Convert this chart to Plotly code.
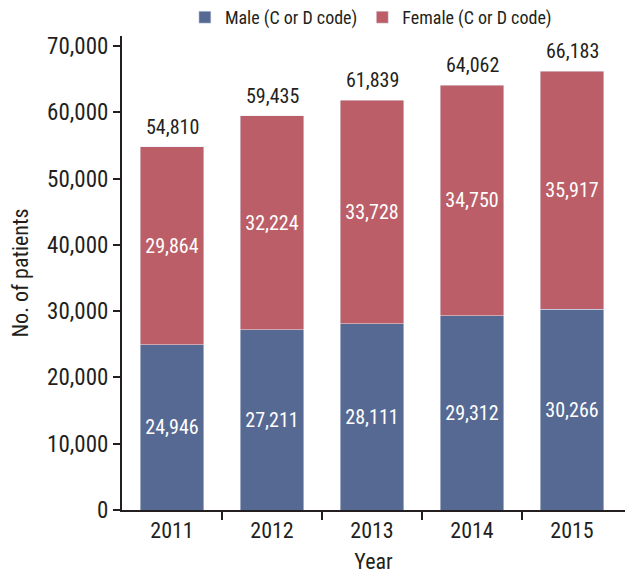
import plotly.graph_objects as go

years = ["2011", "2012", "2013", "2014", "2015"]
male = [24946, 27211, 28111, 29312, 30266]
female = [29864, 32224, 33728, 34750, 35917]
totals = [54810, 59435, 61839, 64062, 66183]
y_ticks = [0, 10000, 20000, 30000, 40000, 50000, 60000, 70000]

FONT = "Roboto Condensed, Liberation Sans Narrow, sans-serif"
INK = "#231f20"
BLUE = "#566993"
RED = "#bb5e67"

xs = list(range(len(years)))
fmt = lambda v: f"{v:,}"

fig = go.Figure()
fig.add_trace(go.Bar(
    x=xs, y=male, name="Male (C or D code)", marker_color=BLUE, width=0.636,
    text=[fmt(v) for v in male], textposition="inside", insidetextanchor="middle",
    textfont=dict(color="white", size=20, family=FONT), textangle=0,
))
fig.add_trace(go.Bar(
    x=xs, y=female, name="Female (C or D code)", marker_color=RED, width=0.636,
    text=[fmt(v) for v in female], textposition="inside", insidetextanchor="middle",
    textfont=dict(color="white", size=20, family=FONT), textangle=0,
))
for xi, t in zip(xs, totals):
    fig.add_annotation(x=xi, y=t, text=fmt(t), showarrow=False, yanchor="bottom",
                       yshift=6, font=dict(size=20, color=INK, family=FONT))

fig.update_layout(
    width=634, height=574, barmode="stack",
    margin=dict(l=114, r=17, t=28, b=72, autoexpand=False),
    paper_bgcolor="white", plot_bgcolor="white",
    font=dict(family=FONT, color=INK, size=20),
    showlegend=True,
    legend=dict(orientation="h", x=0.125, xanchor="left", y=1.0, yanchor="bottom",
                font=dict(size=18, family=FONT), itemwidth=30, traceorder="normal",
                bgcolor="rgba(0,0,0,0)"),
    xaxis=dict(
        range=[-0.5, 4.53], tickvals=xs, ticktext=years, ticks="", showgrid=False,
        showline=True, linecolor=INK, linewidth=2, zeroline=False,
        tickfont=dict(size=22, family=FONT),
        minor=dict(tickvals=[0.5, 1.5, 2.5, 3.5], ticks="outside", ticklen=8,
                   tickwidth=2, tickcolor=INK, showgrid=False),
        title=dict(text="Year", font=dict(size=22, family=FONT), standoff=11),
    ),
    yaxis=dict(
        range=[0, 71500], tickvals=y_ticks, ticktext=[fmt(v) for v in y_ticks],
        ticks="outside", ticklen=7, tickwidth=2, tickcolor=INK, showgrid=False,
        showline=True, linecolor=INK, linewidth=2, zeroline=False,
        tickfont=dict(size=23, family=FONT),
        title=dict(text="No. of patients", font=dict(size=22, family=FONT), standoff=21),
    ),
)

fig.write_html("out.html")
